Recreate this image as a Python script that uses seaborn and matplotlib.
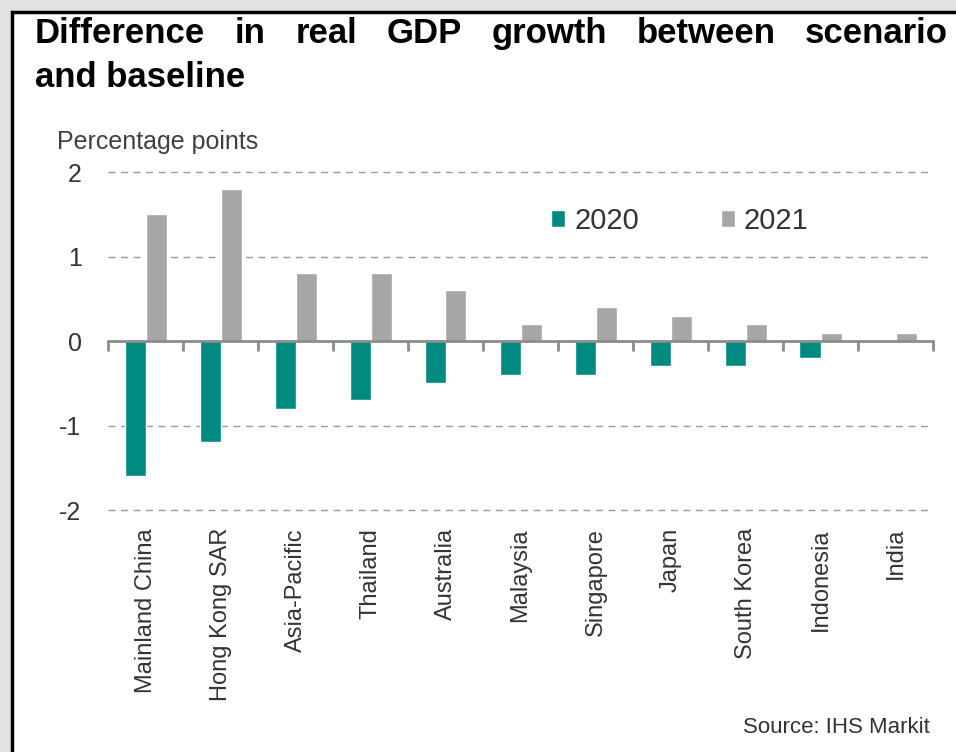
import matplotlib
matplotlib.use("Agg")
import pandas as pd
import seaborn as sns
import matplotlib.pyplot as plt
from matplotlib.patches import Rectangle

# data
countries = ["Mainland China", "Hong Kong SAR", "Asia-Pacific", "Thailand", "Australia",
             "Malaysia", "Singapore", "Japan", "South Korea", "Indonesia", "India"]
years = ["2020", "2021"]
growth_2020 = [-1.6, -1.2, -0.8, -0.7, -0.5, -0.4, -0.4, -0.3, -0.3, -0.2, 0.0]
growth_2021 = [1.5, 1.8, 0.8, 0.8, 0.6, 0.2, 0.4, 0.3, 0.2, 0.1, 0.1]
y_ticks = [-2, -1, 0, 1, 2]

df = pd.DataFrame({
    "country": countries * 2,
    "year": [years[0]] * len(countries) + [years[1]] * len(countries),
    "value": growth_2020 + growth_2021,
})

teal = "#008A80"
grey = "#A6A6A6"
text_col = "#333333"

sns.set_theme(style="white")
plt.rcParams["font.family"] = ["Liberation Sans", "DejaVu Sans"]

fig = plt.figure(figsize=(9.56, 7.52), dpi=100)
fig.patch.set_facecolor("#e2e2e0")
# white panel with black frame (left/top visible)
fig.add_artist(Rectangle((12 / 956, -0.05), 1.1, 1.05 - 12 / 752, transform=fig.transFigure,
                         facecolor="white", edgecolor="black", lw=2.5, zorder=0))

ax = fig.add_axes([108 / 956, 242 / 752, 825 / 956, 338 / 752])
ax.patch.set_alpha(0)

sns.barplot(data=df, x="country", y="value", hue="year", palette=[teal, grey],
            width=0.56, saturation=1, ax=ax, zorder=2)

ax.set_ylim(-2, 2)
ax.set_xlim(-0.5, len(countries) - 0.5)
ax.set_yticks(y_ticks)
ax.set_yticklabels([str(v) for v in y_ticks])
ax.set_xlabel("")
ax.set_ylabel("")

# dashed gridlines
for v in y_ticks:
    if v != 0:
        ax.axhline(v, color="#9a9a9a", lw=1, linestyle=(0, (5, 4)), zorder=1, clip_on=False)

# zero axis with category separator ticks
for side in ["left", "right", "bottom"]:
    ax.spines[side].set_visible(False)
ax.spines["top"].set_position(("data", 0))
ax.spines["top"].set_color("#8c8c8c")
ax.spines["top"].set_linewidth(2)
ax.spines["top"].set_zorder(3)
ax.set_xticks([i - 0.5 for i in range(len(countries) + 1)], minor=True)
ax.tick_params(axis="x", which="minor", top=True, bottom=False, direction="in",
               length=7, width=2, color="#8c8c8c")
ax.tick_params(axis="x", which="major", top=False, bottom=False, length=0,
               labelbottom=True, labeltop=False, pad=13, labelsize=17,
               labelrotation=90, labelcolor=text_col)
ax.tick_params(axis="y", length=0, pad=19, labelsize=18, labelcolor=text_col)

handles, labels = ax.get_legend_handles_labels()
ax.legend(handles, labels, loc="center", bbox_to_anchor=(0.693, 0.855), ncol=2,
          frameon=False, handlelength=0.5, handleheight=0.5, handletextpad=0.3,
          columnspacing=2.8, fontsize=21, labelcolor=text_col)

fig.text(57 / 956, (752 - 142) / 752, "Percentage points", fontsize=18,
         color="#404040", ha="left", va="center")
fig.text(930 / 956, 19 / 752, "Source: IHS Markit", fontsize=16,
         color=text_col, ha="right", va="baseline")

# justified bold title, first line spans the panel width
title_words = ["Difference", "in", "real", "GDP", "growth", "between", "scenario"]
x_left, x_right = 35, 948
fig.canvas.draw()
renderer = fig.canvas.get_renderer()
word_texts = [fig.text(0, (752 - 43) / 752, w, fontsize=25, fontweight="bold",
                       color="black", ha="left", va="baseline") for w in title_words]
widths = [t.get_window_extent(renderer).width for t in word_texts]
gap = (x_right - x_left - sum(widths)) / (len(title_words) - 1)
x = x_left
for t, w in zip(word_texts, widths):
    t.set_x(x / 956)
    x += w + gap
fig.text(x_left / 956, (752 - 87) / 752, "and baseline", fontsize=25,
         fontweight="bold", color="black", ha="left", va="baseline")

fig.savefig("out.png", dpi=100)
